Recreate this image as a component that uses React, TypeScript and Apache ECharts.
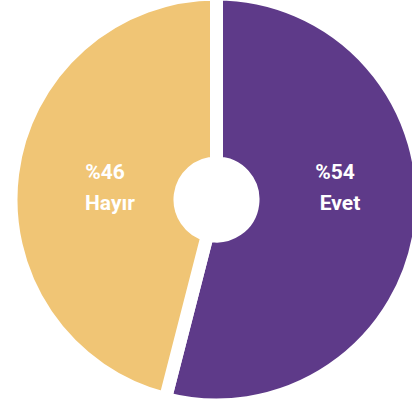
import React, { useEffect, useRef } from "react";
import * as echarts from "echarts";

const categories = ["Evet", "Hayır"];
const values = [54, 46];
const colors = ["#5E3A89", "#F0C575"];

// label anchor positions (style only)
const labelPos = [
  { x1: 335, x2: 340 },
  { x1: 105, x2: 110 },
];

export default function App() {
  const ref = useRef<HTMLDivElement>(null);
  useEffect(() => {
    document.body.style.margin = "0";
    const chart = echarts.init(ref.current!, undefined, { renderer: "svg" });
    const graphic: any[] = [];
    categories.forEach((c, i) => {
      graphic.push({
        type: "text",
        x: labelPos[i].x1,
        y: 172,
        style: {
          text: "%" + values[i],
          fill: "#fff",
          font: "bold 21px Roboto",
          textAlign: "center",
          textVerticalAlign: "middle",
        },
        z: 10,
      });
      graphic.push({
        type: "text",
        x: labelPos[i].x2,
        y: 203,
        style: {
          text: c,
          fill: "#fff",
          font: "bold 21px Roboto",
          textAlign: "center",
          textVerticalAlign: "middle",
        },
        z: 10,
      });
    });
    chart.setOption({
      animation: false,
      backgroundColor: "#fff",
      graphic,
      series: [
        {
          type: "pie",
          center: [216.5, 199.5],
          radius: [36.5, 205.5],
          startAngle: 90,
          clockwise: true,
          label: { show: false },
          labelLine: { show: false },
          emphasis: { disabled: true },
          itemStyle: { borderColor: "#fff", borderWidth: 13 },
          data: categories.map((c, i) => ({
            name: c,
            value: values[i],
            itemStyle: { color: colors[i] },
          })),
        },
      ],
    });
    return () => chart.dispose();
  }, []);
  return <div ref={ref} style={{ width: 412, height: 401 }} />;
}
